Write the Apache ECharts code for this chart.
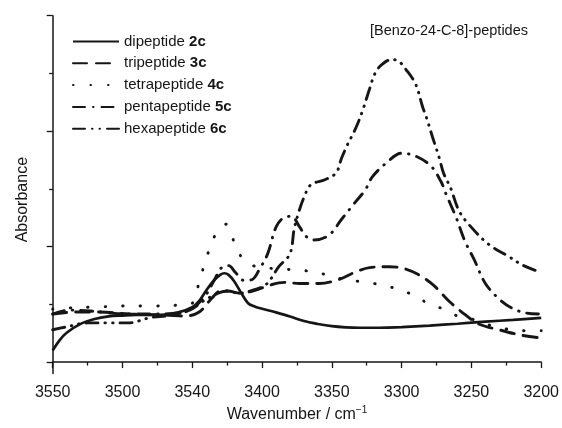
<!DOCTYPE html>
<html>
<head>
<meta charset="utf-8">
<script src="https://cdn.jsdelivr.net/npm/echarts@6/dist/echarts.min.js"></script>
<style>
    html,body{margin:0;padding:0;background:#fff;}
    #chart{width:562px;height:428px;}
</style>
</head>
<body>
<div id="chart"></div>
<script>
    // x ticks and the labels printed under them (the figure prints 3540 at 3450)
    var xTicks = [3550, 3500, 3450, 3400, 3350, 3300, 3250, 3200];
    var xTickLabels = ['3550', '3500', '3540', '3400', '3350', '3300', '3250', '3200'];
    var yMajorTicks = [0, 1, 2, 3];
    var yMinorTicks = [0.5, 1.5, 2.5];

    var seriesNames = ['dipeptide 2c', 'tripeptide 3c', 'tetrapeptide 4c', 'pentapeptide 5c', 'hexapeptide 6c'];

    // [wavenumber, absorbance]
    var di2c = [[3550,0.100],[3545,0.190],[3540,0.254],[3530,0.331],[3520,0.373],[3510,0.395],[3500,0.403],
        [3490,0.408],[3480,0.408],[3470,0.412],[3460,0.430],[3450,0.475],[3445,0.530],[3440,0.620],[3435,0.700],
        [3430,0.755],[3427,0.769],[3424,0.755],[3420,0.700],[3415,0.600],[3410,0.510],[3405,0.480],[3400,0.462],
        [3390,0.430],[3380,0.395],[3370,0.355],[3360,0.330],[3350,0.311],[3340,0.301],[3330,0.297],[3320,0.297],
        [3310,0.299],[3300,0.303],[3280,0.316],[3260,0.332],[3240,0.350],[3220,0.365],[3200,0.382]];

    var tri3c = [[3550,0.416],[3534,0.433],[3516,0.433],[3495,0.416],[3473,0.408],[3455,0.399],[3445,0.433],
        [3436,0.553],[3429,0.621],[3423,0.613],[3416,0.596],[3405,0.621],[3395,0.664],[3384,0.690],[3373,0.681],
        [3359,0.681],[3345,0.715],[3334,0.775],[3323,0.818],[3309,0.826],[3298,0.809],[3288,0.758],[3277,0.664],
        [3266,0.527],[3255,0.416],[3245,0.331],[3230,0.279],[3216,0.237],[3202,0.211]];

    var tetra4c = [[3550,0.459],[3540,0.468],[3520,0.476],[3500,0.485],[3480,0.485],[3460,0.493],[3450,0.510],
        [3445,0.698],[3440,0.895],[3435,1.066],[3430,1.160],[3426,1.194],[3420,1.040],[3415,0.912],[3410,0.852],
        [3400,0.818],[3390,0.809],[3370,0.792],[3360,0.775],[3350,0.741],[3340,0.715],[3330,0.698],[3320,0.681],
        [3310,0.656],[3300,0.621],[3290,0.570],[3280,0.500],[3270,0.459],[3260,0.399],[3250,0.373],[3240,0.331],
        [3230,0.297],[3220,0.279],[3210,0.271],[3200,0.271]];

    var penta5c = [[3550,0.416],[3538,0.450],[3523,0.442],[3509,0.425],[3495,0.416],[3480,0.416],[3466,0.416],
        [3452,0.450],[3441,0.570],[3434,0.715],[3429,0.818],[3424,0.835],[3419,0.775],[3413,0.707],[3407,0.715],
        [3402,0.801],[3396,0.937],[3390,1.168],[3384,1.254],[3379,1.262],[3373,1.168],[3368,1.083],[3363,1.057],
        [3352,1.100],[3343,1.237],[3334,1.373],[3326,1.493],[3321,1.604],[3311,1.724],[3300,1.809],[3290,1.784],
        [3279,1.698],[3272,1.568],[3268,1.450],[3261,1.254],[3255,1.057],[3248,0.887],[3240,0.681],[3230,0.544],
        [3221,0.467],[3211,0.425],[3202,0.416]];

    var hexa6c = [[3550,0.280],[3540,0.305],[3525,0.339],[3510,0.339],[3496,0.339],[3480,0.385],[3466,0.405],
        [3452,0.450],[3440,0.544],[3430,0.604],[3425,0.613],[3416,0.596],[3407,0.621],[3397,0.673],[3388,0.826],
        [3380,0.938],[3377,1.151],[3374,1.288],[3370,1.425],[3365,1.536],[3355,1.579],[3347,1.638],[3343,1.767],
        [3339,1.878],[3333,2.023],[3328,2.177],[3323,2.365],[3319,2.502],[3314,2.579],[3307,2.621],[3302,2.604],
        [3297,2.536],[3290,2.408],[3285,2.211],[3282,2.109],[3278,1.954],[3273,1.767],[3270,1.638],[3265,1.510],
        [3259,1.313],[3252,1.194],[3238,1.023],[3223,0.912],[3214,0.844],[3202,0.784]];

    var seriesData = [di2c, tri3c, tetra4c, penta5c, hexa6c];
    var dashes = ['solid', [14, 9], [0.5, 17], [12, 8, 0.5, 8], [12, 7, 0.5, 7, 0.5, 7]];

    var ink = '#161616';
    var font = '"Liberation Sans", Arial, sans-serif';

    var chart = echarts.init(document.getElementById('chart'));

    var series = [];
    for (var i = 0; i < seriesData.length; i++) {
        series.push({
            name: seriesNames[i],
            type: 'line',
            data: seriesData[i],
            smooth: 0.35,
            showSymbol: false,
            symbol: 'none',
            yAxisIndex: 0,
            color: ink,
            lineStyle: {color: ink, width: i == 0 ? 2.7 : 2.9, type: dashes[i], cap: i == 0 ? 'butt' : 'round'},
            emphasis: {disabled: true},
            animation: false
        });
    }

    var option = {
        animation: false,
        title: {
            text: '[Benzo-24-C-8]-peptides',
            right: 34,
            top: 23,
            padding: 0,
            textStyle: {fontFamily: font, fontSize: 14.5, fontWeight: 'normal', color: ink}
        },
        legend: {
            orient: 'vertical',
            left: 72,
            top: 34,
            padding: 0,
            itemWidth: 46,
            itemHeight: 14,
            itemGap: 6.8,
            data: seriesNames,
            itemStyle: {opacity: 0},   // hide the circle a line series puts in its legend icon
            formatter: function (name) {
                var k = name.lastIndexOf(' ');
                return '{n|' + name.slice(0, k) + ' }{b|' + name.slice(k + 1) + '}';
            },
            textStyle: {
                fontFamily: font, fontSize: 15, color: ink,
                rich: {
                    n: {fontFamily: font, fontSize: 15, color: ink},
                    b: {fontFamily: font, fontSize: 15, color: ink, fontWeight: 'bold'}
                }
            }
        },
        grid: {left: 52.7, right: 19.3, top: 15.7, bottom: 49.6},
        xAxis: {
            type: 'value',
            min: 3200,
            max: 3550,
            interval: 50,
            inverse: true,
            name: 'Wavenumber / cm{s|−1}',
            nameLocation: 'middle',
            nameGap: 22,
            nameTextStyle: {
                fontFamily: font, fontSize: 16, color: ink,
                rich: {s: {fontFamily: font, fontSize: 10, color: ink, verticalAlign: 'top', padding: [0, 0, 9, 0]}}
            },
            axisLine: {lineStyle: {color: ink, width: 1.5}},
            axisTick: {length: 6, lineStyle: {color: ink, width: 1.3}},
            minorTick: {show: true, splitNumber: 2, length: 3.5, lineStyle: {color: ink, width: 1.3}},
            splitLine: {show: false},
            axisLabel: {
                margin: 11,
                fontFamily: font, fontSize: 16, color: ink,
                formatter: function (v) {
                    var k = xTicks.indexOf(v);
                    return k < 0 ? '' : xTickLabels[k];
                }
            }
        },
        yAxis: [{
            type: 'value',
            min: -0.1,
            max: 3,
            name: 'Absorbance',
            nameLocation: 'middle',
            nameGap: 22,
            nameTextStyle: {fontFamily: font, fontSize: 16, color: ink, padding: [0, 10, 0, 0]},
            axisLine: {show: true, lineStyle: {color: ink, width: 1.5}},
            axisTick: {show: true, length: 6, customValues: yMajorTicks, lineStyle: {color: ink, width: 1.3}},
            axisLabel: {show: false},
            splitLine: {show: false}
        }, {
            type: 'value',
            min: -0.1,
            max: 3,
            position: 'left',
            axisLine: {show: false},
            axisTick: {show: true, length: 3.5, customValues: yMinorTicks, lineStyle: {color: ink, width: 1.3}},
            axisLabel: {show: false},
            splitLine: {show: false}
        }],
        series: series
    };
    chart.setOption(option);
</script>
</body>
</html>
